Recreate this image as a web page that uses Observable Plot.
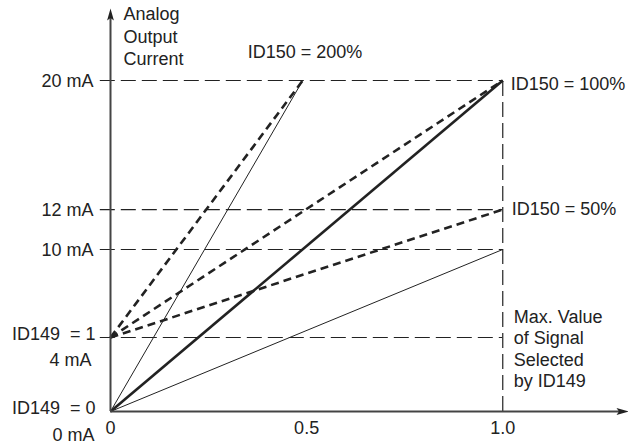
<!DOCTYPE html>
<html>
<head>
<meta charset="utf-8">
<script src="https://cdn.jsdelivr.net/npm/d3@7"></script>
<script src="https://cdn.jsdelivr.net/npm/@observablehq/plot@0.6"></script>
<style>
  html, body { margin: 0; padding: 0; background: #fff; }
  #chart svg { display: block; }
</style>
</head>
<body>
<div id="chart"></div>
<script>
// ---- data ----
const xTickValues = [0, 0.5, 1.0];
const xTickLabels = ["0", "0.5", "1.0"];

const levelValues = [20, 12, 10, 4];           // horizontal reference levels (mA)
const levelLabels = ["20 mA", "12 mA", "10 mA", "4 mA"];

const seriesNames = ["200% from 0", "200% from 4", "100% from 0", "100% from 4", "50% from 4", "50% from 0"];
const seriesStartY = [0, 4, 0, 4, 4, 0];
const seriesEndX   = [0.49, 0.49, 1, 1, 1, 1];
const seriesEndY   = [20, 20, 20, 20, 12, 10];

const id149Labels = ["ID149\u00A0\u00A0= 1", "ID149\u00A0\u00A0= 0"];
const id149Values = [4, 0];
const zeroLabel = "0 mA";

const id150Labels = ["ID150 = 200%", "ID150 = 100%", "ID150 = 50%"];
const id150X = [0.35, 1, 1];
const id150Y = [20, 20, 12];

const yTitle = ["Analog", "Output", "Current"];
const noteLines = ["Max. Value", "of Signal", "Selected", "by ID149"];

// schematic (hand-drawn) spacing of the mA levels in the original figure
const mAKnots = [0, 4, 10, 12, 20];
const drawnKnots = [0, 4.47, 9.79, 12.2, 20];

// ---- build tables ----
const segs = seriesNames.map((n, i) => ({name: n, x1: 0, y1: seriesStartY[i], x2: seriesEndX[i], y2: seriesEndY[i]}));
const thin = segs.filter(d => d.name === "200% from 0" || d.name === "50% from 0");
const thick = segs.filter(d => d.name === "100% from 0");
const dashed = segs.filter(d => d.name.endsWith("from 4"));
const levels = levelValues.map((v, i) => ({v, label: levelLabels[i]}));
const xt = xTickValues.map((v, i) => ({v, label: xTickLabels[i]}));
const id150 = id150Labels.map((t, i) => ({t, x: id150X[i], y: id150Y[i]}));
const id149 = id149Labels.map((t, i) => ({t, v: id149Values[i]}));

const ink = "#222";
const font = "'Liberation Sans', Arial, sans-serif";
const T = {fill: ink, fontSize: 18, letterSpacing: "0.2px"};

const XMAX = 1.318, YMAX = 24.4;
const piece = d3.scaleLinear().domain(mAKnots).range(drawnKnots);

// narrow notched arrowhead, pointing up, tip 12px above its centre
const arrowHead = {
  draw(ctx) {
    ctx.moveTo(0, -12);
    ctx.lineTo(3.4, 0);
    ctx.lineTo(0, -2.5);
    ctx.lineTo(-3.4, 0);
    ctx.closePath();
  }
};

const chart = Plot.plot({
  width: 628,
  height: 447,
  x: {domain: [0, XMAX], range: [110, 627]},
  y: {transform: piece, domain: [0, piece(YMAX)], range: [411, 9]},
  axis: null,
  style: {fontFamily: font, fontSize: "18px", color: ink, background: "#fff"},
  marks: [
    // horizontal reference levels
    Plot.ruleY(levels, {y: "v", x1: -0.026, x2: 1, stroke: ink, strokeWidth: 1.2, strokeDasharray: "15,6"}),
    // vertical reference at 1.0
    Plot.ruleX([1], {y1: 0, y2: 20, stroke: ink, strokeWidth: 1.2, strokeDasharray: "15,6"}),
    // series
    Plot.link(thin, {x1: "x1", y1: "y1", x2: "x2", y2: "y2", stroke: ink, strokeWidth: 1}),
    Plot.link(thick, {x1: "x1", y1: "y1", x2: "x2", y2: "y2", stroke: ink, strokeWidth: 2.6}),
    Plot.link(dashed, {x1: "x1", y1: "y1", x2: "x2", y2: "y2", stroke: ink, strokeWidth: 2.6, strokeDasharray: "8,5"}),
    // axes
    Plot.ruleX([0], {y1: 0, y2: YMAX - 0.5, stroke: "#444", strokeWidth: 2}),
    Plot.ruleY([0], {x1: 0, x2: XMAX - 0.02, stroke: "#444", strokeWidth: 2}),
    Plot.dot([{x: 0, y: YMAX}], {x: "x", y: "y", symbol: arrowHead, fill: ink, stroke: null, dy: 11}),
    Plot.dot([{x: XMAX, y: 0}], {x: "x", y: "y", symbol: arrowHead, fill: ink, stroke: null, rotate: 90, dx: -11}),
    // x tick labels
    Plot.text(xt, {x: "v", y: 0, text: "label", dy: 17, ...T}),
    // y level labels
    Plot.text(levels.filter(d => d.v !== 4), {x: 0, y: "v", text: "label", textAnchor: "end", dx: -17, dy: 1, ...T}),
    Plot.text(levels.filter(d => d.v === 4), {x: 0, y: "v", text: "label", textAnchor: "end", dx: -19, dy: 23, ...T}),
    Plot.text(id149, {x: 0, y: "v", text: "t", textAnchor: "end", dx: -15, dy: -3, ...T}),
    Plot.text([zeroLabel], {x: 0, y: 0, text: d => d, textAnchor: "end", dx: -16, dy: 24, ...T}),
    // ID150 labels
    Plot.text(id150.slice(0, 1), {x: "x", y: "y", text: "t", textAnchor: "start", dx: 0, dy: -28.5, ...T}),
    Plot.text(id150.slice(1, 2), {x: "x", y: "y", text: "t", textAnchor: "start", dx: 8, dy: 4, ...T}),
    Plot.text(id150.slice(2, 3), {x: "x", y: "y", text: "t", textAnchor: "start", dx: 9, dy: 0, ...T}),
    // y title
    Plot.text([yTitle.join("\n")], {x: 0, y: YMAX, text: d => d, textAnchor: "start", lineAnchor: "top", dx: 13, dy: -6, lineHeight: 1.27, ...T}),
    // note
    Plot.text([noteLines.join("\n")], {x: 1, y: 0, text: d => d, textAnchor: "start", lineAnchor: "top", dx: 11, dy: -104, lineHeight: 1.19, ...T})
  ]
});
document.getElementById("chart").appendChild(chart);
</script>
</body>
</html>
